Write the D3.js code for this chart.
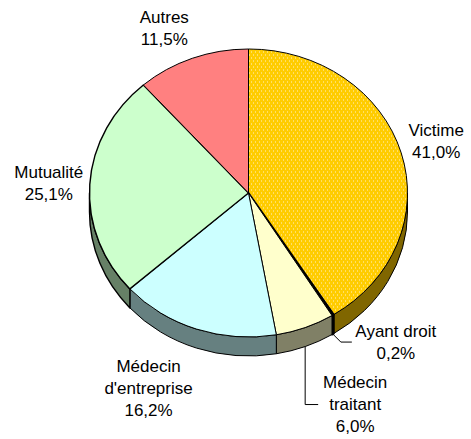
<!DOCTYPE html>
<html>
<head>
<meta charset="utf-8">
<script src="https://cdn.jsdelivr.net/npm/d3@7"></script>
<style>
  body { margin: 0; background: #fff; }
  text { font-family: "Liberation Sans", Arial, sans-serif; font-size: 17px; fill: #000; }
</style>
</head>
<body>
<svg id="pie3d" width="471" height="439"></svg>
<script>
// data
var categories = ["Victime", "Ayant droit", "Médecin traitant", "Médecin d'entreprise", "Mutualité", "Autres"];
var values = [41.0, 0.2, 6.0, 16.2, 25.1, 11.5];
var labelLines = [["Victime"], ["Ayant droit"], ["Médecin", "traitant"], ["Médecin", "d'entreprise"], ["Mutualité"], ["Autres"]];

// styling
var topColors = ["url(#dots)", "#000", "#ffffcc", "#ccffff", "#ccffcc", "#ff8080"];
var sideColors = ["#806600", "#000", "#808066", "#668080", "#668066", "#804040"];
var strokeW = [1, 2, 1, 1, 1.4, 1];
// label offset from the rim point at the mid angle: [dx, dy of first baseline]
var labelOffsets = [[35, -17], [63, 22], [50, 60], [-48, 43], [-41, -6], [-28, -35]];

var svg = d3.select("#pie3d"),
    cx = 248.5, cy = 193,
    rx = 159, ry = 144,
    depth = 19,
    lineH = 22;

var defs = svg.append("defs");
var pat = defs.append("pattern")
    .attr("id", "dots")
    .attr("patternUnits", "userSpaceOnUse")
    .attr("width", 4).attr("height", 6);
pat.append("rect").attr("width", 4).attr("height", 6).attr("fill", "#ffcc00");
pat.append("rect").attr("x", 1).attr("y", 0).attr("width", 1).attr("height", 2).attr("fill", "#ffdf66");
pat.append("rect").attr("x", 3).attr("y", 3).attr("width", 1).attr("height", 2).attr("fill", "#ffdf66");

var fmt = d3.formatLocale({decimal: ",", thousands: " ", grouping: [3], currency: ["", "€"]}).format(".1f");

function pt(a, dy) {
  return [cx + rx * Math.sin(a), cy - ry * Math.cos(a) + (dy || 0)];
}

var arcs = d3.pie().sort(null).value(function(d) { return d; })(values);

var g = svg.append("g");

// outer walls (front half only)
g.selectAll("path.side")
  .data(arcs.filter(function(d) { return d.endAngle > Math.PI / 2 && d.startAngle < 3 * Math.PI / 2; }))
  .enter().append("path")
    .attr("class", "side")
    .attr("fill", function(d) { return sideColors[d.index]; })
    .attr("stroke", "#000")
    .attr("stroke-width", function(d) { return strokeW[d.index]; })
    .attr("stroke-linejoin", "round")
    .attr("d", function(d) {
      var s = Math.max(d.startAngle, Math.PI / 2),
          e = Math.min(d.endAngle, 3 * Math.PI / 2),
          p0 = pt(s), p1 = pt(e), p2 = pt(e, depth), p3 = pt(s, depth);
      return "M" + p0 + "A" + rx + "," + ry + " 0 0 1 " + p1 +
             "L" + p2 + "A" + rx + "," + ry + " 0 0 0 " + p3 + "Z";
    });

// top faces
g.selectAll("path.top")
  .data(arcs)
  .enter().append("path")
    .attr("class", "top")
    .attr("fill", function(d) { return topColors[d.index]; })
    .attr("stroke", "#000")
    .attr("stroke-width", function(d) { return strokeW[d.index]; })
    .attr("stroke-linejoin", "round")
    .attr("d", function(d) {
      var p0 = pt(d.startAngle), p1 = pt(d.endAngle),
          large = d.endAngle - d.startAngle > Math.PI ? 1 : 0;
      return "M" + cx + "," + cy + "L" + p0 + "A" + rx + "," + ry + " 0 " + large + " 1 " + p1 + "Z";
    });

// labels
var lab = svg.append("g").selectAll("g")
  .data(arcs)
  .enter().append("g")
    .attr("transform", function(d) {
      var m = pt((d.startAngle + d.endAngle) / 2), o = labelOffsets[d.index];
      return "translate(" + (m[0] + o[0]) + "," + (m[1] + o[1]) + ")";
    })
    .attr("text-anchor", "middle");

lab.append("text")
  .selectAll("tspan")
  .data(function(d) { return labelLines[d.index].concat([fmt(d.value) + "%"]); })
  .enter().append("tspan")
    .attr("x", 0)
    .attr("y", function(d, i) { return i * lineH; })
    .text(function(d) { return d; });

// leader lines for the two small slices
var leaders = [
  {i: 1, elbow: [8, 8], end: [19, 8]},
  {i: 2, elbow: [0, 58], end: [13, 58]}
];
svg.append("g").selectAll("path")
  .data(leaders)
  .enter().append("path")
    .attr("fill", "none")
    .attr("stroke", "#000")
    .attr("stroke-width", 1)
    .attr("d", function(l) {
      var a = arcs[l.i], p = pt((a.startAngle + a.endAngle) / 2, depth);
      return "M" + p + "L" + (p[0] + l.elbow[0]) + "," + (p[1] + l.elbow[1]) +
             "L" + (p[0] + l.end[0]) + "," + (p[1] + l.end[1]);
    });
</script>
</body>
</html>
